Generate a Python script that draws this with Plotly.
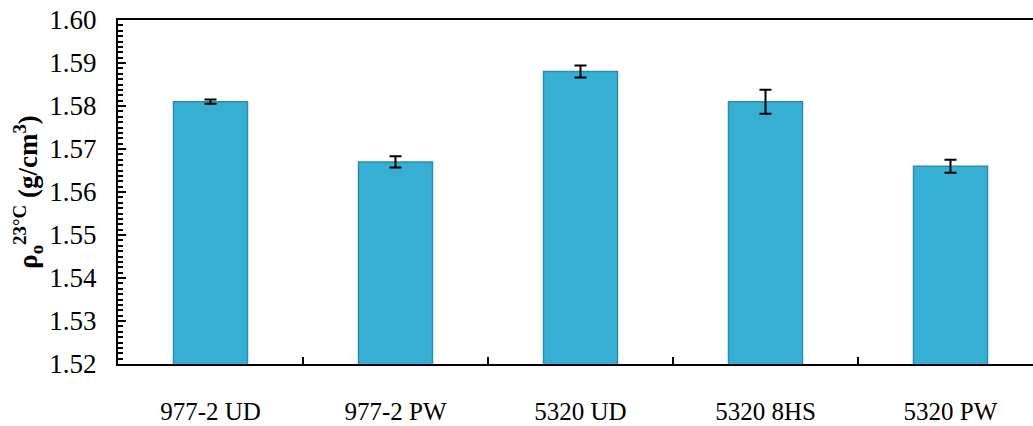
import plotly.graph_objects as go

# Density at 23 °C for each laminate type
materials = ["977-2 UD", "977-2 PW", "5320 UD", "5320 8HS", "5320 PW"]
density = [1.581, 1.567, 1.588, 1.581, 1.566]
density_err = [0.0005, 0.0013, 0.0014, 0.0028, 0.0015]

y_ticks = [1.52, 1.53, 1.54, 1.55, 1.56, 1.57, 1.58, 1.59, 1.60]
y_tick_text = [f"{v:.2f}" for v in y_ticks]

serif = "Liberation Serif"

fig = go.Figure()
fig.add_trace(go.Bar(
    x=materials,
    y=density,
    base=0,
    width=0.4,
    marker=dict(color="#37afd4", line=dict(color="#2a8eae", width=1.5)),
    error_y=dict(type="data", array=density_err, visible=True,
                 color="black", thickness=2, width=6),
))

fig.update_layout(
    width=1033, height=426,
    margin=dict(l=118, r=0, t=20, b=62),
    paper_bgcolor="white", plot_bgcolor="white",
    showlegend=False,
    font=dict(family=serif, color="black", size=25),
    xaxis=dict(
        type="category",
        range=[-0.5, 4.446],
        showline=True, linecolor="black", linewidth=2, mirror=True,
        ticks="inside", tickson="boundaries", ticklen=7, tickwidth=1.5,
        tickcolor="black",
        tickfont=dict(family=serif, size=25, color="black"),
        ticklabelstandoff=24,
        showgrid=False, zeroline=False,
    ),
    yaxis=dict(
        range=[1.52, 1.60],
        tickvals=y_ticks, ticktext=y_tick_text,
        showline=True, linecolor="black", linewidth=2, mirror=False,
        ticks="inside", ticklen=8, tickwidth=1.5, tickcolor="black",
        minor=dict(dtick=0.00125, ticks="inside", ticklen=5,
                   tickwidth=1.5, tickcolor="black", showgrid=False),
        tickfont=dict(family=serif, size=27, color="black"),
        ticklabelstandoff=14,
        showgrid=False, zeroline=False,
        title=dict(
            text="<b>ρ<sub>o</sub><sup>23°C</sup> (g/cm<sup>3</sup>)</b>",
            font=dict(family=serif, size=27, color="black"),
            standoff=4,
        ),
    ),
)

fig.write_html("out.html")
